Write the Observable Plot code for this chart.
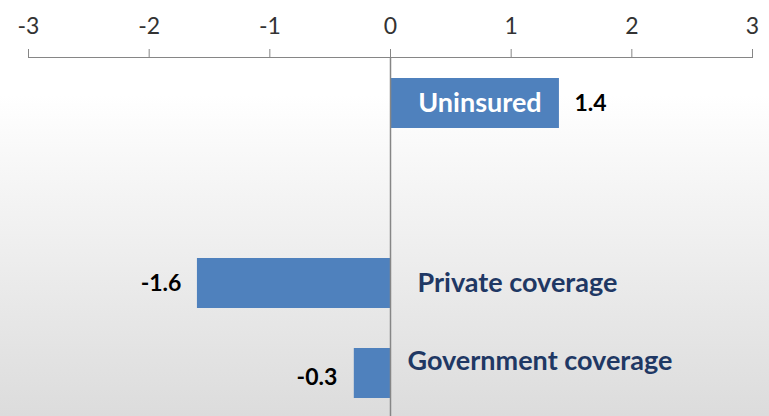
<!DOCTYPE html>
<html><head><meta charset="utf-8">
<script src="https://cdn.jsdelivr.net/npm/d3@7"></script>
<script src="https://cdn.jsdelivr.net/npm/@observablehq/plot@0.6"></script>
<style>
body{margin:0;background:#fff}
#chart svg{display:block}
</style>
</head><body><div id="chart"></div>
<script>
const categories = ["Uninsured", "", "Private coverage", "Government coverage"];
const series = ["Uninsured", "Private coverage", "Government coverage"];
const values = [1.4, -1.6, -0.3];
const valueLabels = ["1.4", "-1.6", "-0.3"];
const xTicks = [-3, -2, -1, 0, 1, 2, 3];

const data = series.map((c, i) => ({category: c, value: values[i], label: valueLabels[i]}));
const pick = name => data.filter(d => d.category === name);

const navy = "#1f3864";
const grid = "#868686";

const chart = Plot.plot({
  width: 769,
  height: 416,
  marginTop: 57,
  marginBottom: -2,
  marginLeft: 28,
  marginRight: 17,
  style: {
    fontFamily: "Lato, 'Open Sans', sans-serif",
    background: "linear-gradient(to bottom, #ffffff 0px, #ffffff 95px, #dcdcdc 416px)",
    overflow: "hidden"
  },
  x: {domain: [-3, 3], axis: null, label: null},
  y: {domain: categories, axis: null, paddingInner: 0.45, paddingOuter: 0.225},
  marks: [
    Plot.axisX({anchor: "top", ticks: xTicks, tickSize: 9, stroke: grid, tickFormat: () => "", label: null}),
    Plot.axisX({anchor: "top", ticks: xTicks, tickSize: 0, tickPadding: 24, fill: "#333333", fontSize: 23, tickFormat: d => String(d), label: null}),
    Plot.frame({anchor: "top", stroke: grid}),
    Plot.barX(data, {x: "value", y: "category", fill: "#4f81bd"}),
    Plot.ruleX([0], {stroke: grid, strokeWidth: 1.5}),
    Plot.text(pick("Uninsured"), {x: d => d.value / 2, y: "category", text: "category", fill: "white", fontWeight: "bold", fontSize: 27, dx: 5}),
    Plot.text(pick("Private coverage"), {x: 0, y: "category", text: "category", fill: navy, fontWeight: "bold", fontSize: 27, textAnchor: "start", dx: 27}),
    Plot.text(pick("Government coverage"), {x: 0, y: "category", text: "category", fill: navy, fontWeight: "bold", fontSize: 27, textAnchor: "start", dx: 17, dy: -12}),
    Plot.text(data.filter(d => d.value > 0), {x: "value", y: "category", text: "label", fill: "black", fontWeight: "bold", fontSize: 23, textAnchor: "start", dx: 15}),
    Plot.text(pick("Private coverage"), {x: "value", y: "category", text: "label", fill: "black", fontWeight: "bold", fontSize: 23, textAnchor: "end", dx: -16}),
    Plot.text(pick("Government coverage"), {x: "value", y: "category", text: "label", fill: "black", fontWeight: "bold", fontSize: 23, textAnchor: "end", dx: -17, dy: 4})
  ]
});
document.getElementById("chart").appendChild(chart);
</script>
</body></html>
